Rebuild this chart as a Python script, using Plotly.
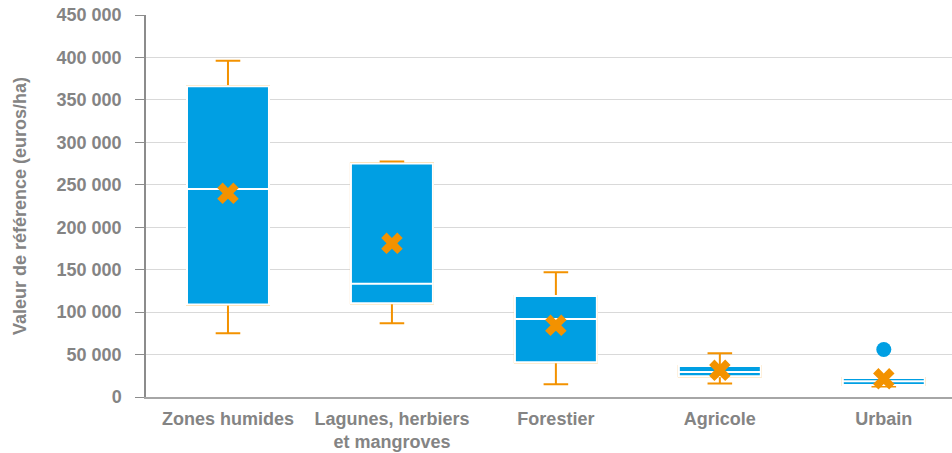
import plotly.graph_objects as go

categories = ["Zones humides", "Lagunes, herbiers<br>et mangroves", "Forestier", "Agricole", "Urbain"]
lower_whisker = [75000, 87000, 15000, 16000, 12500]
q1 = [109000, 110500, 41000, 24500, 14000]
median = [245000, 133500, 92000, 29500, 18500]
q3 = [366000, 275000, 119000, 36500, 22500]
upper_whisker = [396000, 277500, 147000, 51500, 22500]
means = [240000, 181000, 84500, 31500, 21500]
outlier_cat = ["Urbain"]
outlier_val = [56000]

tick_vals = [0, 50000, 100000, 150000, 200000, 250000, 300000, 350000, 400000, 450000]
tick_text = ["0", "50 000", "100 000", "150 000", "200 000", "250 000", "300 000", "350 000", "400 000", "450 000"]

BLUE = "#009FE3"
ORANGE = "#F39200"
GREY = "#848484"
FONT = "Liberation Sans, Arial, sans-serif"
PAD = "\u00a0\u00a0"

fig = go.Figure()

# whiskers (orange)
fig.add_trace(go.Box(
    x=categories, q1=q1, median=median, q3=q3,
    lowerfence=lower_whisker, upperfence=upper_whisker,
    width=0.5, whiskerwidth=0.3,
    fillcolor="rgba(0,0,0,0)", line=dict(color=ORANGE, width=2),
    boxpoints=False, hoverinfo="skip", showlegend=False,
))
# boxes (blue with white median)
fig.add_trace(go.Box(
    x=categories, q1=q1, median=median, q3=q3,
    lowerfence=q1, upperfence=q3,
    width=0.5, whiskerwidth=0,
    fillcolor=BLUE, line=dict(color="white", width=2),
    boxpoints=False, showlegend=False,
))
# mean markers
fig.add_trace(go.Scatter(
    x=categories, y=means, mode="markers",
    marker=dict(symbol="x", size=19, color=ORANGE, line=dict(width=0)),
    showlegend=False,
))
# outlier
fig.add_trace(go.Scatter(
    x=outlier_cat, y=outlier_val, mode="markers",
    marker=dict(symbol="circle", size=15, color=BLUE, line=dict(width=0)),
    showlegend=False,
))

fig.update_layout(
    width=952, height=453,
    margin=dict(l=146, r=0, t=15, b=56),
    paper_bgcolor="white", plot_bgcolor="white",
    font=dict(family=FONT, size=18, color=GREY, weight="bold"),
    boxmode="overlay",
    xaxis=dict(
        type="category", categoryorder="array", categoryarray=categories,
        range=[-0.5, 4.416], showgrid=False, showline=True,
        linecolor="#A6A6A6", linewidth=2, ticks="",
        ticklabelstandoff=4,
        tickfont=dict(family=FONT, size=18, color=GREY, weight="bold"),
        automargin=False, fixedrange=True,
    ),
    yaxis=dict(
        range=[0, 450000], tickvals=tick_vals, ticktext=[t + PAD for t in tick_text],
        showgrid=True, gridcolor="#D9D9D9", gridwidth=1,
        showline=True, linecolor="#8C8C8C", linewidth=1.5,
        ticks="outside", ticklen=9, tickcolor="#8C8C8C", tickwidth=1,
        ticklabeloverflow="allow",
        zeroline=False, automargin=False, fixedrange=True,
        tickfont=dict(family=FONT, size=18, color=GREY, weight="bold"),
        title=dict(text="Valeur de référence (euros/ha)", standoff=25,
                   font=dict(family=FONT, size=18, color=GREY, weight="bold")),
    ),
)

fig.write_html("out.html", config={"displayModeBar": False},
               post_script="document.body.style.margin='0px';")
